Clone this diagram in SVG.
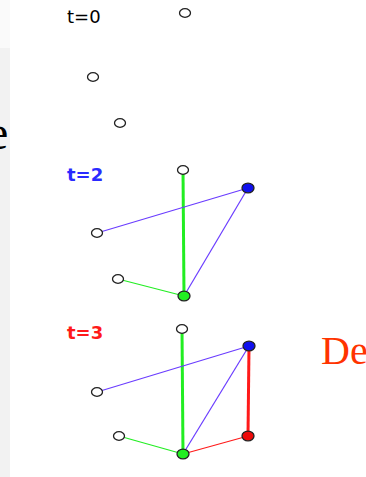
<svg xmlns="http://www.w3.org/2000/svg" width="366" height="477" viewBox="0 0 366 477">
<style>
.n{stroke:#222;stroke-width:1.3}
.w{fill:#fff}
.b{fill:#1010ee}
.g{fill:#22ee22}
.r{fill:#ee0a0a}
.lbl{font-family:"DejaVu Sans",sans-serif;font-size:18px}
.eb{stroke:#6a3cff;stroke-width:1.2;fill:none}
.eg{stroke:#22ee22;fill:none}
.er{stroke:#ff1a1a;fill:none}
.big{font-family:"Liberation Serif",serif;font-size:40px}
</style>
<rect x="0" y="0" width="366" height="477" fill="#fff"/>
<rect x="0" y="0" width="10" height="477" fill="#fafafa"/>
<rect x="0" y="48" width="10" height="429" fill="#f2f2f2"/>
<text x="-13" y="149" class="big" style="font-size:48px" fill="#000">e</text>
<text x="321" y="364" class="big" fill="#ff3300">De</text>

<text x="67" y="22.5" class="lbl" fill="#000">t=0</text>
<text x="67" y="181" class="lbl" font-weight="bold" fill="#2a2aff">t=2</text>
<text x="67" y="339" class="lbl" font-weight="bold" fill="#ff1a1a">t=3</text>

<g id="connectors">
<line x1="183" y1="170" x2="184" y2="296" class="eg" stroke-width="3"/>
<line x1="97" y1="233" x2="248" y2="188" class="eb"/>
<line x1="248" y1="188" x2="184" y2="296" class="eb"/>
<line x1="118" y1="279" x2="184" y2="296" class="eg" stroke-width="1.2"/>

<line x1="182" y1="329" x2="183" y2="454" class="eg" stroke-width="3"/>
<line x1="97" y1="392" x2="249" y2="346" class="eb"/>
<line x1="249" y1="346" x2="183" y2="454" class="eb"/>
<line x1="249" y1="346" x2="248" y2="436" class="er" stroke-width="3"/>
<line x1="248" y1="436" x2="183" y2="454" class="er" stroke-width="1.2"/>
<line x1="119" y1="436" x2="183" y2="454" class="eg" stroke-width="1.2"/>
</g>

<g id="t0-n1"><ellipse cx="185" cy="13" rx="5.5" ry="4.3" class="n w"/></g>
<g id="t0-n2"><ellipse cx="93" cy="77" rx="5.5" ry="4.3" class="n w"/></g>
<g id="t0-n3"><ellipse cx="120" cy="123" rx="5.5" ry="4.3" class="n w"/></g>

<g id="t2-top"><ellipse cx="183" cy="170" rx="5.5" ry="4.3" class="n w"/></g>
<g id="t2-blue"><ellipse cx="248" cy="188" rx="6" ry="4.8" class="n b"/></g>
<g id="t2-left"><ellipse cx="97" cy="233" rx="5.5" ry="4.3" class="n w"/></g>
<g id="t2-lowleft"><ellipse cx="118" cy="279" rx="5.5" ry="4.3" class="n w"/></g>
<g id="t2-green"><ellipse cx="184" cy="296" rx="6" ry="4.8" class="n g"/></g>

<g id="t3-top"><ellipse cx="182" cy="329" rx="5.5" ry="4.3" class="n w"/></g>
<g id="t3-blue"><ellipse cx="249" cy="346" rx="6" ry="4.8" class="n b"/></g>
<g id="t3-left"><ellipse cx="97" cy="392" rx="5.5" ry="4.3" class="n w"/></g>
<g id="t3-lowleft"><ellipse cx="119" cy="436" rx="5.5" ry="4.3" class="n w"/></g>
<g id="t3-red"><ellipse cx="248" cy="436" rx="6" ry="4.8" class="n r"/></g>
<g id="t3-green"><ellipse cx="183" cy="454" rx="6" ry="4.8" class="n g"/></g>
</svg>
